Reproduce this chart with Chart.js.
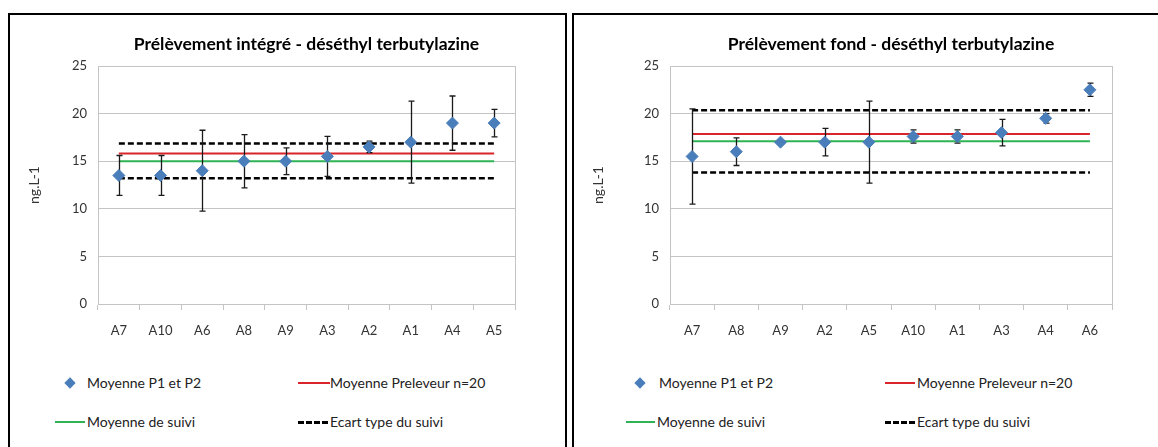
<!DOCTYPE html>
<html>
<head>
<meta charset="utf-8">
<script src="https://cdn.jsdelivr.net/npm/chart.js@4.4.1/dist/chart.umd.min.js"></script>
<style>
  body { margin: 0; background: #fff; width: 1158px; height: 447px; overflow: hidden; position: relative; font-family: Lato, sans-serif; }
  .box { position: absolute; top: 13px; height: 450px; border: 2px solid #000; border-bottom: none; box-sizing: border-box; }
  #boxL { left: 8px; width: 559px; }
  #boxR { left: 572px; width: 600px; }
  .box canvas { position: absolute; left: 0; top: 0; }
  .leg { position: absolute; font-size: 14px; color: #222; white-space: nowrap; line-height: 16px; }
  .sym { position: absolute; }
</style>
</head>
<body>
<div class="box" id="boxL"><canvas id="chartL" width="555" height="340"></canvas></div>
<div class="box" id="boxR"><canvas id="chartR" width="584" height="340"></canvas></div>

<script>
// Données - prélèvement intégré
const integreCategories = ['A7', 'A10', 'A6', 'A8', 'A9', 'A3', 'A2', 'A1', 'A4', 'A5'];
const integreMoyenne = [13.5, 13.5, 14.0, 15.0, 15.0, 15.5, 16.5, 17.0, 19.0, 19.0];
const integreErreur = [2.1, 2.1, 4.25, 2.8, 1.4, 2.1, 0.6, 4.3, 2.85, 1.45];
const integrePreleveur = [15.8, 15.8, 15.8, 15.8, 15.8, 15.8, 15.8, 15.8, 15.8, 15.8];
const integreSuivi = [15.0, 15.0, 15.0, 15.0, 15.0, 15.0, 15.0, 15.0, 15.0, 15.0];
const integreEcartHaut = [16.85, 16.85, 16.85, 16.85, 16.85, 16.85, 16.85, 16.85, 16.85, 16.85];
const integreEcartBas = [13.2, 13.2, 13.2, 13.2, 13.2, 13.2, 13.2, 13.2, 13.2, 13.2];

// Données - prélèvement fond
const fondCategories = ['A7', 'A8', 'A9', 'A2', 'A5', 'A10', 'A1', 'A3', 'A4', 'A6'];
const fondMoyenne = [15.5, 16.0, 17.0, 17.0, 17.0, 17.6, 17.6, 18.0, 19.5, 22.5];
const fondErreur = [5.0, 1.45, 0.15, 1.45, 4.3, 0.7, 0.7, 1.4, 0.5, 0.7];
const fondPreleveur = [17.85, 17.85, 17.85, 17.85, 17.85, 17.85, 17.85, 17.85, 17.85, 17.85];
const fondSuivi = [17.1, 17.1, 17.1, 17.1, 17.1, 17.1, 17.1, 17.1, 17.1, 17.1];
const fondEcartHaut = [20.35, 20.35, 20.35, 20.35, 20.35, 20.35, 20.35, 20.35, 20.35, 20.35];
const fondEcartBas = [13.8, 13.8, 13.8, 13.8, 13.8, 13.8, 13.8, 13.8, 13.8, 13.8];

const yTicks = [0, 5, 10, 15, 20, 25];
const yTitre = 'ng.L-1';

const BLEU = '#4a7ebb';
const ROUGE = '#d8252b';
const VERT = '#2fb355';
const GRILLE = '#c4c4c4';

// Barres d'erreur (dessinées sous les losanges)
const errorBars = {
    id: 'errorBars',
    beforeDatasetDraw(chart, args, opts) {
        if (args.index !== 0) return;
        const { ctx, scales: { x, y } } = chart;
        const moy = chart.data.datasets[0].data;
        ctx.save();
        ctx.strokeStyle = '#1a1a1a';
        ctx.lineWidth = 1.3;
        moy.forEach((v, i) => {
            const px = Math.round(x.getPixelForValue(i)) + 0.5;
            const yh = y.getPixelForValue(v + opts.err[i]);
            const yb = y.getPixelForValue(v - opts.err[i]);
            ctx.beginPath();
            ctx.moveTo(px, yh); ctx.lineTo(px, yb);
            ctx.moveTo(px - 3, yh); ctx.lineTo(px + 3, yh);
            ctx.moveTo(px - 3, yb); ctx.lineTo(px + 3, yb);
            ctx.stroke();
        });
        ctx.restore();
    }
};

// Cadre de la zone de tracé
const plotFrame = {
    id: 'plotFrame',
    beforeDatasetsDraw(chart) {
        const { ctx, chartArea: a } = chart;
        ctx.save();
        ctx.strokeStyle = GRILLE;
        ctx.lineWidth = 1;
        ctx.strokeRect(Math.round(a.left) + 0.5, Math.round(a.top) + 0.5, Math.round(a.right - a.left), Math.round(a.bottom - a.top));
        ctx.restore();
    }
};

function creerGraphique(id, titre, cats, moy, err, prel, suivi, haut, bas, yWidth, padRight) {
    const ctx = document.getElementById(id).getContext('2d');
    const ligne = (label, data, color, dash) => ({
        type: 'line', label, data,
        borderColor: color, backgroundColor: color,
        borderWidth: dash ? 2.5 : 2, borderDash: dash || [],
        pointRadius: 0, fill: false, tension: 0
    });
    return new Chart(ctx, {
        type: 'line',
        data: {
            labels: cats,
            datasets: [
                {
                    label: 'Moyenne P1 et P2', data: moy, showLine: false,
                    pointStyle: 'rectRot', pointRadius: 6, pointBackgroundColor: BLEU,
                    pointBorderColor: BLEU, borderColor: BLEU, backgroundColor: BLEU
                },
                ligne('Moyenne Preleveur n=20', prel, ROUGE),
                ligne('Moyenne de suivi', suivi, VERT),
                ligne('Ecart type du suivi', haut, '#000', [6, 3]),
                ligne('Ecart type du suivi', bas, '#000', [6, 3])
            ]
        },
        options: {
            responsive: false,
            animation: false,
            layout: { padding: { left: 0, right: padRight, top: 0, bottom: 15 } },
            scales: {
                x: {
                    offset: true,
                    grid: { drawOnChartArea: false, drawTicks: true, tickLength: 6, color: GRILLE, offset: true },
                    border: { color: GRILLE },
                    ticks: { color: '#333', padding: 13, font: { family: 'Lato', size: 13 }, maxRotation: 0 },
                    afterFit(scale) { scale.height = 36; }
                },
                y: {
                    min: 0, max: 25,
                    afterBuildTicks(scale) { scale.ticks = yTicks.map(v => ({ value: v })); },
                    grid: { color: GRILLE, drawTicks: false },
                    border: { color: GRILLE },
                    ticks: { color: '#333', padding: 11, font: { family: 'Lato', size: 13 } },
                    title: { display: true, text: yTitre, color: '#333', font: { family: 'Lato', size: 14 }, padding: { top: 16, bottom: 0 } },
                    afterFit(scale) { scale.width = yWidth; }
                }
            },
            plugins: {
                legend: { display: false },
                tooltip: { enabled: false },
                title: {
                    display: true, text: titre, fullSize: false, color: '#000',
                    font: { family: 'Lato', size: 17.5, weight: 'bold' },
                    padding: { top: 19, bottom: 11 }
                },
                errorBars: { err }
            }
        },
        plugins: [errorBars, plotFrame]
    });
}

const chartL = creerGraphique('chartL', 'Prélèvement intégré - déséthyl terbutylazine',
    integreCategories, integreMoyenne, integreErreur, integrePreleveur, integreSuivi, integreEcartHaut, integreEcartBas, 88, 50);
const chartR = creerGraphique('chartR', 'Prélèvement fond - déséthyl terbutylazine',
    fondCategories, fondMoyenne, fondErreur, fondPreleveur, fondSuivi, fondEcartHaut, fondEcartBas, 96, 46);

// Légende HTML en 2 x 2, construite à partir des jeux de données
function construireLegende(boxId, chart, places) {
    const box = document.getElementById(boxId);
    places.forEach((p, i) => {
        const ds = chart.data.datasets[i];
        const sym = document.createElement('div');
        sym.className = 'sym';
        if (i === 0) {
            sym.style.cssText = `left:${p.sx - 4}px;top:${p.y - 4}px;width:8px;height:8px;background:${BLEU};transform:rotate(45deg);`;
        } else if (ds.borderDash.length) {
            sym.style.cssText = `left:${p.sx}px;top:${p.y - 1}px;width:${p.sw}px;height:2.5px;background:repeating-linear-gradient(90deg,#000 0 6px,transparent 6px 8px);`;
        } else {
            sym.style.cssText = `left:${p.sx}px;top:${p.y - 1}px;width:${p.sw}px;height:2px;background:${ds.borderColor};`;
        }
        box.appendChild(sym);
        const txt = document.createElement('div');
        txt.className = 'leg';
        txt.textContent = ds.label;
        txt.style.left = p.tx + 'px';
        txt.style.top = (p.y - 8) + 'px';
        box.appendChild(txt);
    });
}

construireLegende('boxL', chartL, [
    { sx: 60, sw: 0, tx: 77, y: 368 },
    { sx: 288, sw: 32, tx: 320, y: 368 },
    { sx: 45, sw: 30, tx: 77, y: 407 },
    { sx: 288, sw: 32, tx: 320, y: 407 }
]);
construireLegende('boxR', chartR, [
    { sx: 66, sw: 0, tx: 85, y: 368 },
    { sx: 311, sw: 30, tx: 343, y: 368 },
    { sx: 52, sw: 29, tx: 83, y: 407 },
    { sx: 311, sw: 30, tx: 343, y: 407 }
]);
</script>
</body>
</html>
